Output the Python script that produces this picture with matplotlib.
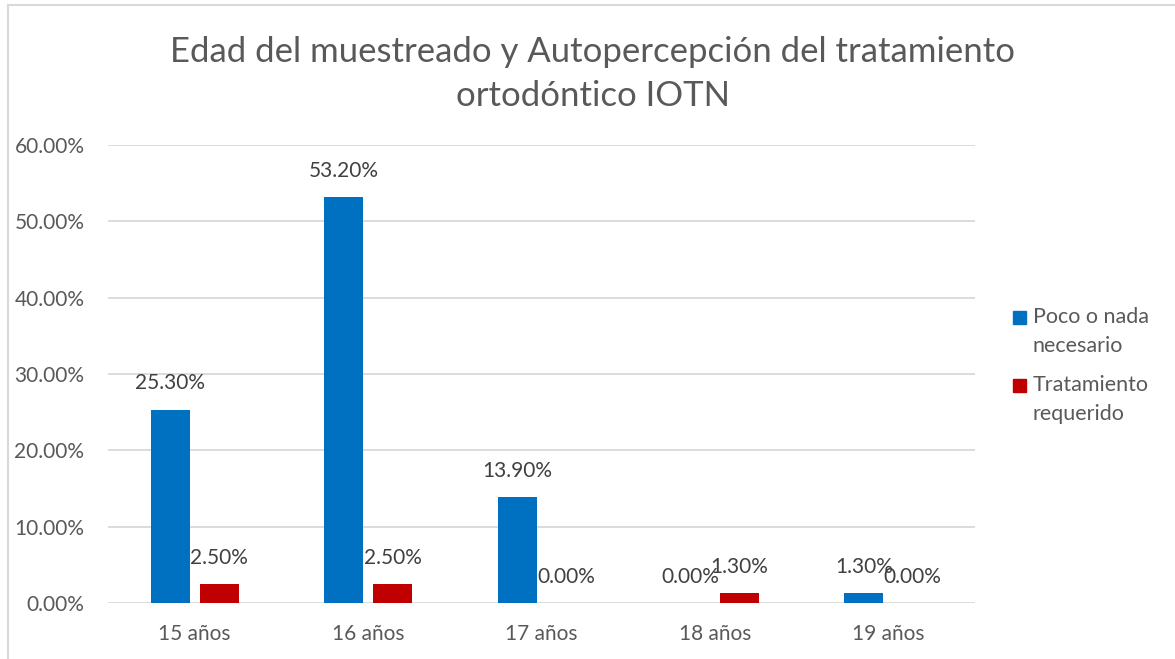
import matplotlib.pyplot as plt
import numpy as np
from matplotlib.patches import Rectangle

# DATA
categorias = ['15 años', '16 años', '17 años', '18 años', '19 años']
poco_nada = [25.3, 53.2, 13.9, 0.0, 1.3]
tratamiento = [2.5, 2.5, 0.0, 1.3, 0.0]
series_labels = ['Poco o nada\nnecesario', 'Tratamiento\nrequerido']
yticks = [0, 10, 20, 30, 40, 50, 60]

AZUL = '#0070C0'
ROJO = '#C00000'
GRIS = '#595959'
FONT = 'Lato'

plt.rcParams['font.family'] = [FONT, 'DejaVu Sans']

W, H = 1175, 659
fig = plt.figure(figsize=(W / 100, H / 100), dpi=100)
ax = fig.add_axes([108 / W, 1 - 603 / H, (975 - 108) / W, (603 - 145) / H])

# borde del gráfico
fig.patches.append(Rectangle((8 / W, -0.05), 1.1, 1 - 5 / H + 0.05,
                             transform=fig.transFigure, fill=False,
                             ec='#D9D9D9', lw=1.5))

x = np.arange(len(categorias))
w = 0.225
off = 0.141

b1 = ax.bar(x - off, poco_nada, w, color=AZUL, zorder=3)
b2 = ax.bar(x + off, tratamiento, w, color=ROJO, zorder=3)

for bars, vals in ((b1, poco_nada), (b2, tratamiento)):
    for r, v in zip(bars, vals):
        ax.annotate(f'{v:.2f}%', (r.get_x() + r.get_width() / 2, v),
                    xytext=(0, 19), textcoords='offset points',
                    ha='center', va='center', fontsize=15, color='#404040')

ax.set_xlim(-0.5, len(categorias) - 0.5)
ax.set_ylim(0, 60)
ax.set_yticks(yticks)
ax.set_yticklabels([f'{t:.2f}%' for t in yticks], fontsize=15, color=GRIS)
ax.set_xticks(x)
ax.set_xticklabels(categorias, fontsize=15, color=GRIS)
ax.tick_params(length=0)
ax.tick_params(axis='x', pad=15)
ax.tick_params(axis='y', pad=17)
for s in ax.spines.values():
    s.set_visible(False)
ax.grid(axis='y', color='#D9D9D9', lw=1.3, zorder=0)

fig.text(593 / W, 1 - 74 / H,
         'Edad del muestreado y Autopercepción del tratamiento\nortodóntico IOTN',
         ha='center', va='center', fontsize=25, color=GRIS, linespacing=1.45)

# leyenda manual
for color, label, ytop in ((AZUL, series_labels[0], 317), (ROJO, series_labels[1], 385)):
    fig.patches.append(Rectangle((1013 / W, 1 - (ytop + 7) / H), 13 / W, 13 / H,
                                 transform=fig.transFigure, color=color))
    for i, linea in enumerate(label.split('\n')):
        fig.text(1033 / W, 1 - (ytop + i * 29) / H, linea, ha='left', va='center',
                 fontsize=15.5, color=GRIS)

fig.savefig('out.png', dpi=100, facecolor='white')
